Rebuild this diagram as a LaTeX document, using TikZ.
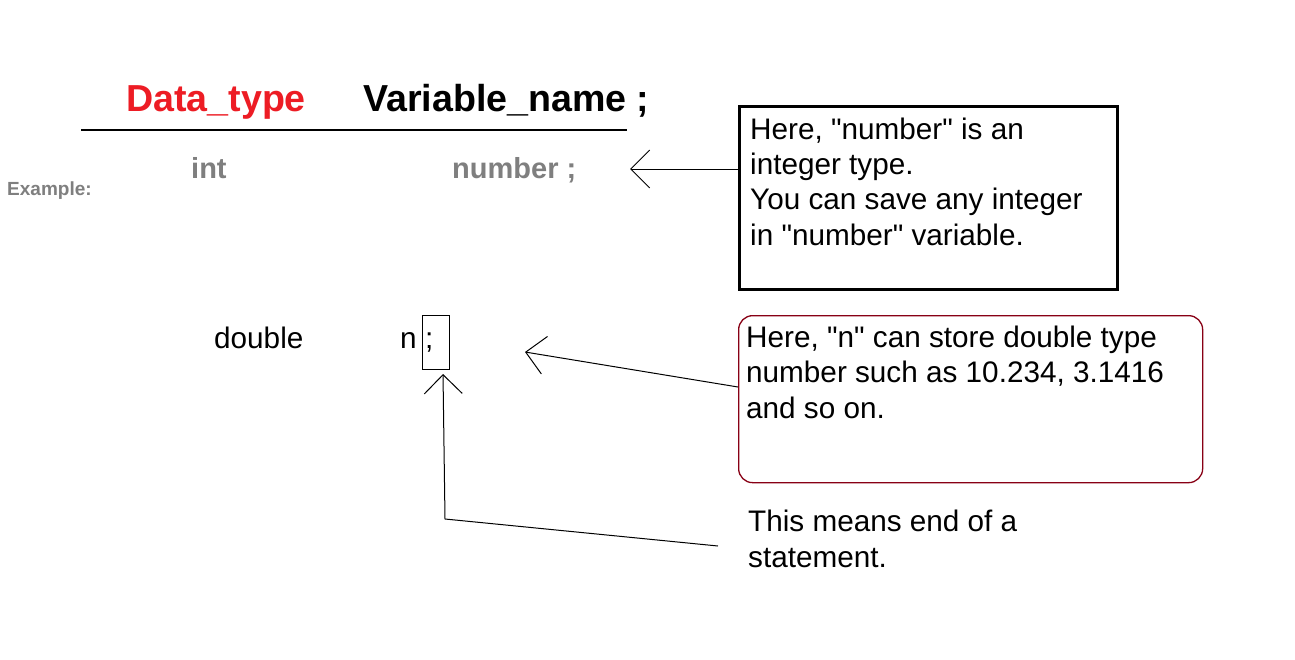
\documentclass[tikz,border=0pt]{standalone}
\usepackage{fontspec}
\setmainfont{Liberation Sans}[Ligatures=TeXOff]
\usetikzlibrary{arrows.meta}
\definecolor{pred}{RGB}{237,28,36}
\definecolor{pgray}{RGB}{127,127,127}
\definecolor{pdark}{RGB}{136,0,21}
\tikzset{
  hdr/.style={anchor=base west, inner sep=0pt, font=\fontsize{37.6}{40}\selectfont\bfseries},
  ex/.style={anchor=base west, inner sep=0pt, text=pgray, font=\fontsize{29}{35}\selectfont\bfseries},
  body/.style={anchor=base west, inner sep=0pt, align=left, font=\fontsize{29.7}{35.3}\selectfont},
  conn/.style={line width=1pt, -{Straight Barb[length=19pt, width=38pt, line width=1pt]}},
}
\begin{document}
\begin{tikzpicture}[x=1pt,y=-1pt]
\useasboundingbox[fill=white] (0,0) rectangle (1295,659);
% header
\node[hdr, text=pred] (dt) at (126,111) {Data\_type};
\node[hdr] (vn) at (363,111) {Variable\_name ;};
\coordinate (ruleL) at (81,130);
\coordinate (ruleR) at (627,130);
\draw[line width=1.3pt] (ruleL) -- (ruleR);
% example 1
\node[ex] (int) at (191,178) {int};
\node[ex] (num) at (452,178) {number ;};
\node[anchor=base west, inner sep=0pt, text=pgray, font=\fontsize{19}{20}\selectfont\bfseries] (exlbl) at (7,195) {Example:};
% box 1
\node[draw, line width=2.5pt, minimum width=378pt, minimum height=183pt, anchor=north west, inner sep=0pt] (box1) at (738,105) {};
\node[body] (t1) at (750,245) {Here, "number" is an\\integer type.\\You can save any integer\\in "number" variable.};
\coordinate (tip1) at (630,169);
\draw[conn] (box1.west |- tip1) -- (tip1);
% example 2
\node[body] (dbl) at (214,348) {double};
\node[body] (n) at (400,348) {n};
\node[draw, line width=1pt, minimum width=27pt, minimum height=54pt, anchor=north west, inner sep=0pt] (semi) at (422,315) {};
\node[body] (sc) at (425,348) {;};
% box 2
\node[draw=pdark, line width=1.3pt, rounded corners=14pt, minimum width=464pt, minimum height=167pt, anchor=north west, inner sep=0pt] (box2) at (738,315) {};
\node[body] (t2) at (746,418) {Here, "n" can store double type\\number such as 10.234, 3.1416\\and so on.};
\coordinate (tip2) at (525,352);
\coordinate (b2) at (738,387);
\draw[conn] (b2) -- (tip2);
% statement note
\node[body] (t3) at (748,567) {This means end of a\\statement.};
\coordinate (s3) at (718,546);
\coordinate (bend3) at (445,519);
\coordinate (tip3) at (443,374);
\draw[conn] (s3) -- (bend3) -- (tip3);
\end{tikzpicture}
\end{document}
